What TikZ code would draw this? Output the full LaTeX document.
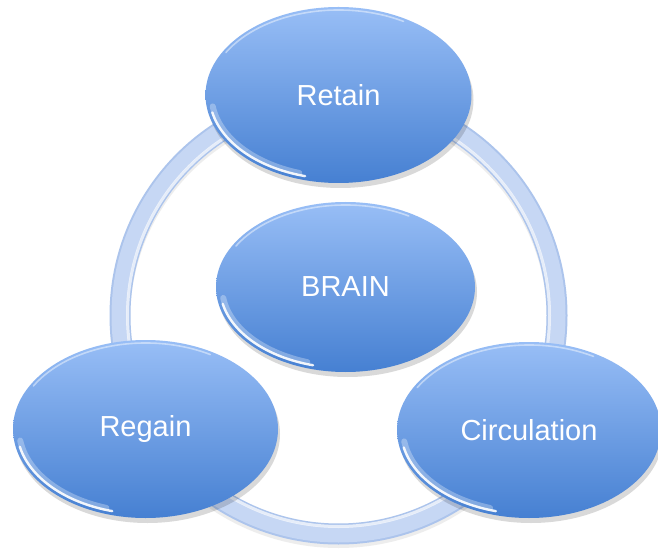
\documentclass[tikz,border=0pt]{standalone}
\usepackage{fontspec}
\setmainfont{Liberation Sans}
\usetikzlibrary{shapes.geometric,shadows}
\definecolor{ballTop}{RGB}{152,190,246}
\definecolor{ballBot}{RGB}{70,128,210}
\definecolor{ringCol}{RGB}{198,215,244}
\definecolor{ringEdge}{RGB}{172,196,236}
\newcommand\glossy[3]{%
  \draw[white, line width=6pt, opacity=0.3, line cap=round]
    ([shift={(188:#2-6 and #3-6)}]#1.center)
    arc[start angle=188, end angle=252, x radius=#2-6, y radius=#3-6];
  \draw[white, line width=2.4pt, opacity=0.9, line cap=round]
    ([shift={(192:#2-4 and #3-4)}]#1.center)
    arc[start angle=192, end angle=255, x radius=#2-4, y radius=#3-4];
  \draw[white, line width=1.6pt, opacity=0.45, line cap=round]
    ([shift={(60:#2-3 and #3-3)}]#1.center)
    arc[start angle=60, end angle=150, x radius=#2-3, y radius=#3-3];
}
\tikzset{
  ball/.style={ellipse, inner sep=0pt, top color=ballTop, bottom color=ballBot,
    draw=none, text=white, font=\fontsize{29}{34}\selectfont,
    drop shadow={shadow xshift=2pt, shadow yshift=-5pt, opacity=0.15, fill=black}},
}
\begin{document}
\begin{tikzpicture}[x=1pt,y=1pt]
\useasboundingbox[fill=white] (0,0) rectangle (658,552);
% ring
\coordinate (rc) at (338.5,236.5);
\draw[black!15, line width=20pt, opacity=0.45] ([yshift=-4pt]rc) circle[radius=218.5];
\draw[ringEdge, line width=21pt] (rc) circle[radius=218.5];
\draw[ringCol, line width=15pt] (rc) circle[radius=219.5];
\draw[white, line width=3pt, opacity=0.7] (rc) circle[radius=211];
% balls
\node[ball, minimum width=266pt, minimum height=176pt] (retain) at (338.5,457) {Retain};
\node[ball, minimum width=259pt, minimum height=170pt] (brain) at (345.5,265) {BRAIN};
\node[ball, minimum width=265pt, minimum height=178pt] (regain) at (145.5,123) {Regain};
\node[ball, minimum width=264pt, minimum height=176pt] (circ) at (529,122) {Circulation};
\glossy{retain}{133}{88}
\glossy{brain}{129.5}{85}
\glossy{regain}{132.5}{89}
\glossy{circ}{132}{88}
\end{tikzpicture}
\end{document}
